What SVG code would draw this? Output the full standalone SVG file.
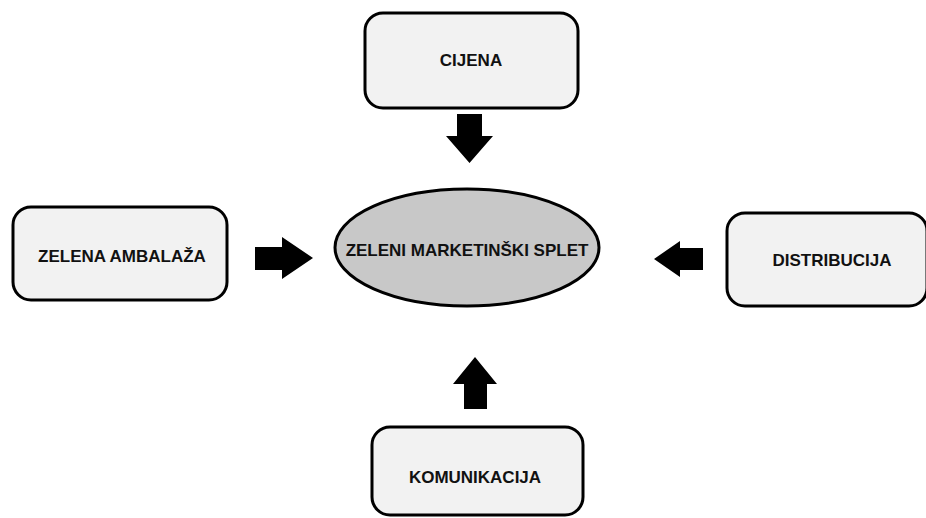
<svg xmlns="http://www.w3.org/2000/svg" width="926" height="518" viewBox="0 0 926 518">
<style>
.box{fill:#f2f2f2;stroke:#000;stroke-width:3}
.ell{fill:#c8c8c8;stroke:#000;stroke-width:3}
.lbl{font-family:"Liberation Sans",Arial,sans-serif;font-weight:bold;font-size:17px;fill:#111;text-anchor:middle;dominant-baseline:central}
.arr{fill:#000}
</style>
<rect x="0" y="0" width="926" height="518" fill="#fff"/>
<g id="connectors">
<path class="arr" d="M457,114 H482 V136 H493 L469.5,163 L446,136 H457 Z"/>
<path class="arr" d="M255,247 H282 V237 L313,258 L282,279 V270 H255 Z"/>
<path class="arr" d="M654,259 L680,241 V248 H703 V270 H680 V277 Z"/>
<path class="arr" d="M475,357 L497,384 H487 V409 H464 V384 H453 Z"/>
</g>
<g id="cijena">
<rect class="box" x="365" y="13" width="213" height="95" rx="18" ry="18"/>
<text class="lbl" x="471" y="60">CIJENA</text>
</g>
<g id="zelena-ambalaza">
<rect class="box" x="13" y="207" width="214" height="93" rx="18" ry="18"/>
<text class="lbl" x="122" y="256">ZELENA AMBALAŽA</text>
</g>
<g id="zeleni-marketinski-splet">
<ellipse class="ell" cx="467" cy="247.5" rx="132" ry="58.5"/>
<text class="lbl" x="467" y="250">ZELENI MARKETINŠKI SPLET</text>
</g>
<g id="distribucija">
<rect class="box" x="727" y="213" width="200" height="93" rx="18" ry="18"/>
<text class="lbl" x="832" y="260">DISTRIBUCIJA</text>
</g>
<g id="komunikacija">
<rect class="box" x="372" y="427" width="211" height="88" rx="18" ry="18"/>
<text class="lbl" x="475" y="477">KOMUNIKACIJA</text>
</g>
</svg>
